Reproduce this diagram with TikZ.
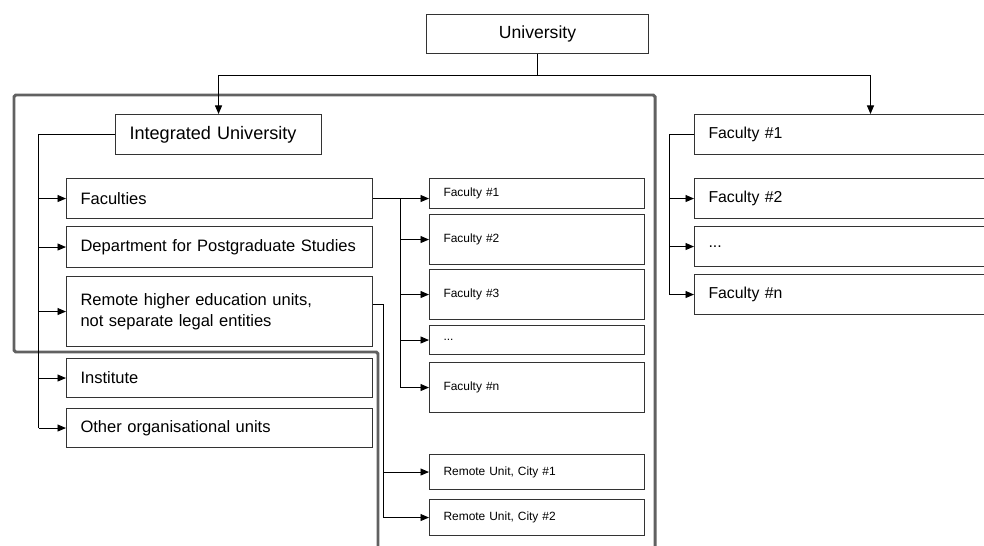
\documentclass[tikz,border=0pt]{standalone}
\usepackage{fontspec}
\setmainfont{Liberation Sans}
\usetikzlibrary{arrows.meta}

\begin{document}
\begin{tikzpicture}[
    unit/.style={draw=black!80, line width=0.6pt, rectangle, anchor=north west, align=left, inner xsep=0.28cm, font=\fontsize{9.4}{11.8}\selectfont},
    subunit/.style={unit, text width=3.74cm, font=\fontsize{6.8}{8}\selectfont},
    leftunit/.style={unit, text width=5.56cm},
    rightunit/.style={unit, text width=5.56cm, minimum height=0.8cm, font=\fontsize{9}{11}\selectfont},
    link/.style={line width=0.55pt},
    arr/.style={link, -{Triangle[length=1.7mm,width=1.4mm]}}
]
    \useasboundingbox (0,0) rectangle (19.68,-10.92);
    \clip (0,0) rectangle (19.68,-10.92);

    % Frame round the integrated university
    \draw[black!62, line width=1.7pt, rounded corners=1pt] (7.56,-11.2) -- (7.56,-7.04) -- (0.28,-7.04) -- (0.28,-1.90) -- (13.10,-1.90) -- (13.10,-11.2);

    % Top node
    \node[unit, align=center, text width=3.88cm, minimum height=0.78cm, font=\fontsize{10}{12}\selectfont] (univ) at (8.52,-0.28) {University};
    \coordinate (rtop) at (17.41,-1.51);

    % Integrated university and its units
    \node[unit, text width=3.56cm, minimum height=0.80cm, font=\fontsize{10.3}{12}\selectfont] (iu) at (2.30,-2.28) {Integrated University};
    \node[leftunit, minimum height=0.80cm] (fac) at (1.32,-3.56) {Faculties};
    \node[leftunit, minimum height=0.82cm] (dps) at (1.32,-4.52) {Department for Postgraduate Studies};
    \node[leftunit, minimum height=1.40cm] (rem) at (1.32,-5.52) {Remote higher education units,\\not separate legal entities};
    \node[leftunit, minimum height=0.78cm] (inst) at (1.32,-7.16) {Institute};
    \node[leftunit, minimum height=0.78cm] (oth) at (1.32,-8.16) {Other organisational units};
    \coordinate (lspine) at (0.77,-2.72);

    % Faculties and remote units
    \node[subunit, minimum height=0.60cm] (mf1) at (8.58,-3.56) {Faculty \#1};
    \node[subunit, minimum height=1.00cm] (mf2) at (8.58,-4.28) {Faculty \#2};
    \node[subunit, minimum height=1.00cm] (mf3) at (8.58,-5.38) {Faculty \#3};
    \node[subunit, minimum height=0.58cm] (mfdots) at (8.58,-6.50) {...};
    \node[subunit, minimum height=1.00cm] (mfn) at (8.58,-7.24) {Faculty \#n};
    \node[subunit, minimum height=0.70cm] (city1) at (8.58,-9.08) {Remote Unit, City \#1};
    \node[subunit, minimum height=0.72cm] (city2) at (8.58,-9.98) {Remote Unit, City \#2};
    \coordinate (fbus) at (8.01,-3.92);
    \coordinate (rbus) at (7.67,-6.08);

    % Separate faculties
    \node[rightunit] (rf1) at (13.88,-2.28) {Faculty \#1};
    \node[rightunit] (rf2) at (13.88,-3.56) {Faculty \#2};
    \node[rightunit] (rfdots) at (13.88,-4.52) {...};
    \node[rightunit] (rfn) at (13.88,-5.48) {Faculty \#n};
    \coordinate (rspine) at (13.39,-2.74);

    % Arrows from the university
    \draw[link] (univ.south) -- (univ.south |- rtop);
    \draw[link] (iu.north |- rtop) -- (rtop);
    \draw[arr] (rtop) -- (rtop |- rf1.north);
    \draw[arr] (iu.north |- rtop) -- (iu.north);

    % Arrows inside the integrated university
    \draw[link] (iu.west) -| (lspine |- oth.west);
    \foreach \n in {fac,dps,rem,inst,oth}
        \draw[arr] (lspine |- \n.west) -- (\n.west);

    \draw[arr] (fac.east) -- (mf1.west |- fac.east);
    \draw[link] (fbus |- fac.east) -- (fbus |- mfn.west);
    \foreach \n in {mf2,mf3,mfdots,mfn}
        \draw[arr] (fbus |- \n.west) -- (\n.west);

    \draw[link] ([yshift=0.14cm]rem.east) -| (rbus |- city2.west);
    \foreach \n in {city1,city2}
        \draw[arr] (rbus |- \n.west) -- (\n.west);

    % Arrows between separate faculties
    \draw[link] (rf1.west) -| (rspine |- rfn.west);
    \foreach \n in {rf2,rfdots,rfn}
        \draw[arr] (rspine |- \n.west) -- (\n.west);
\end{tikzpicture}
\end{document}
